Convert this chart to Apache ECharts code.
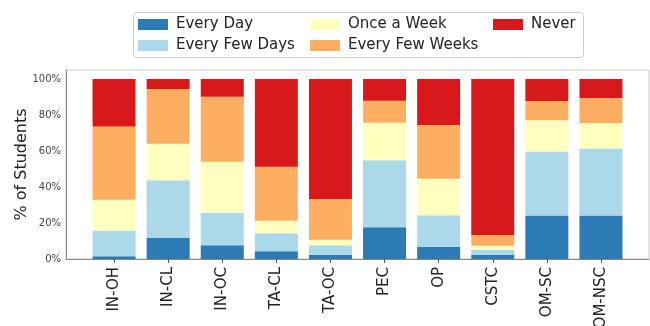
<!DOCTYPE html>
<html lang="en">
<head>
<meta charset="UTF-8">
<title>% of Students</title>
<script src="https://cdn.jsdelivr.net/npm/echarts@6/dist/echarts.min.js"></script>
<style>
    body { margin: 0; background: #fff; }
    #chart { width: 650px; height: 326px; }
</style>
</head>
<body>
<div id="chart"></div>
<script>
    const categories = ['IN-OH', 'IN-CL', 'IN-OC', 'TA-CL', 'TA-OC', 'PEC', 'OP', 'CSTC', 'OM-SC', 'OM-NSC'];
    const everyDay      = [1.5, 11.6, 7.6, 4.3, 2.4, 17.6, 6.7, 2.4, 24.2, 24.2];
    const everyFewDays  = [14.4, 32.2, 18.1, 10.0, 5.2, 37.2, 17.6, 2.8, 35.5, 37.2];
    const onceAWeek     = [17.0, 20.2, 28.3, 7.0, 3.1, 20.9, 20.3, 2.2, 17.4, 14.2];
    const everyFewWeeks = [40.7, 30.5, 36.2, 29.9, 22.6, 12.2, 29.8, 5.9, 10.7, 13.9];
    const never         = [26.4, 5.5, 9.8, 48.8, 66.7, 12.1, 25.6, 86.7, 12.2, 10.5];
    const yTicks = [0, 20, 40, 60, 80, 100];

    const seriesDefs = [
        { name: 'Every Day', data: everyDay, color: '#2c7bb6' },
        { name: 'Every Few Days', data: everyFewDays, color: '#abd9e9' },
        { name: 'Once a Week', data: onceAWeek, color: '#ffffbf' },
        { name: 'Every Few Weeks', data: everyFewWeeks, color: '#fdae61' },
        { name: 'Never', data: never, color: '#d7191c' }
    ];

    const font = 'DejaVu Sans';
    const legendBase = {
        orient: 'vertical',
        top: 17,
        padding: 0,
        icon: 'rect',
        itemWidth: 30,
        itemHeight: 11,
        itemGap: 6,
        textStyle: { fontFamily: font, fontSize: 15, color: '#222', padding: [0, 0, 0, 3] }
    };

    const chart = echarts.init(document.getElementById('chart'));
    chart.setOption({
        animation: false,
        textStyle: { fontFamily: font },
        graphic: [{
            type: 'rect',
            shape: { x: 133.5, y: 12.5, width: 450, height: 45, r: 3 },
            style: { fill: '#fff', stroke: '#ccc', lineWidth: 1 }
        }],
        legend: [
            Object.assign({ left: 138, data: ['Every Day', 'Every Few Days'] }, legendBase),
            Object.assign({ left: 310, data: ['Once a Week', 'Every Few Weeks'] }, legendBase),
            Object.assign({ left: 493, data: ['Never'] }, legendBase)
        ],
        grid: [
            { left: 66, right: 1, top: 70, bottom: 67, show: true, borderColor: '#ccc', borderWidth: 1, outerBoundsMode: 'none' },
            { left: 87, right: 22, top: 70, bottom: 67, outerBoundsMode: 'none' }
        ],
        xAxis: [
            {
                type: 'value', gridIndex: 0, min: 0, max: 1,
                axisLine: { show: true, onZero: false, lineStyle: { color: '#888' } },
                axisTick: { show: false }, axisLabel: { show: false }, splitLine: { show: false }
            },
            {
                type: 'category', gridIndex: 1, data: categories,
                axisLine: { show: false },
                axisTick: { show: true, alignWithLabel: true, length: 4, lineStyle: { color: '#555' } },
                axisLabel: { rotate: 90, fontSize: 15, color: '#222', margin: 8, interval: 0 }
            }
        ],
        yAxis: [
            {
                type: 'value', gridIndex: 0, min: 0, max: 105, interval: 20,
                name: '% of Students', nameLocation: 'middle', nameGap: 36, nameMoveOverlap: false,
                nameTextStyle: { fontSize: 16, color: '#222' },
                axisLine: { show: true, lineStyle: { color: '#888' } },
                axisTick: { show: false },
                splitLine: { show: false },
                axisLabel: {
                    fontSize: 10, color: '#444', margin: 5,
                    formatter: v => yTicks.indexOf(v) >= 0 ? v + '%' : ''
                }
            },
            {
                type: 'value', gridIndex: 1, min: 0, max: 105,
                axisLine: { show: false }, axisTick: { show: false },
                axisLabel: { show: false }, splitLine: { show: false }
            }
        ],
        series: seriesDefs.map(s => ({
            name: s.name,
            type: 'bar',
            stack: 'total',
            xAxisIndex: 1,
            yAxisIndex: 1,
            barWidth: 43,
            data: s.data,
            itemStyle: { color: s.color }
        }))
    });
</script>
</body>
</html>
